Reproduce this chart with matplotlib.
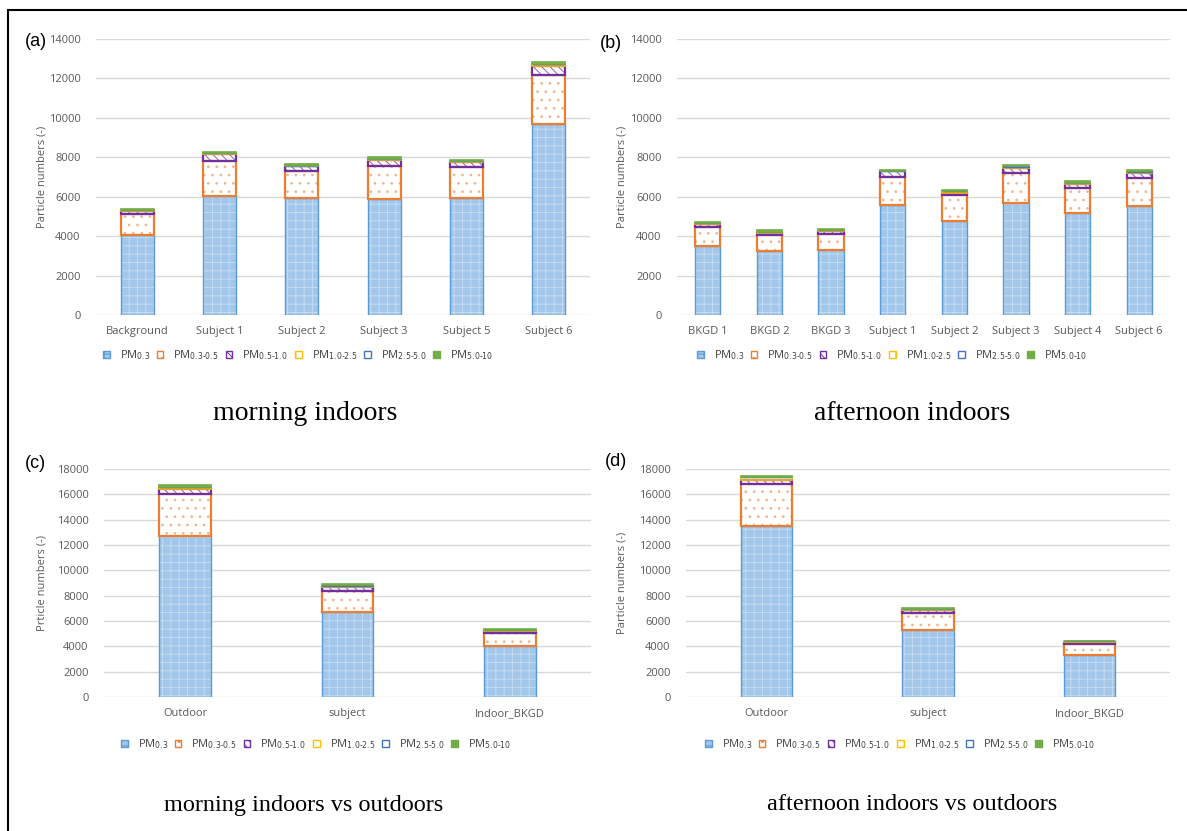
import numpy as np
import matplotlib
matplotlib.use("Agg")
import matplotlib.pyplot as plt
from matplotlib.patches import Patch, Rectangle

W, H = 1187, 831

# size classes
series = ["PM$_{0.3}$", "PM$_{0.3\u20100.5}$", "PM$_{0.5\u20101.0}$",
          "PM$_{1.0\u20102.5}$", "PM$_{2.5\u20105.0}$", "PM$_{5.0\u201010}$"]

# (a) morning indoors
cats_a = ["Background", "Subject 1", "Subject 2", "Subject 3", "Subject 5", "Subject 6"]
a_pm03 = [4050, 6050, 5920, 5860, 5950, 9680]
a_pm0305 = [1050, 1750, 1380, 1690, 1550, 2500]
a_pm0510 = [170, 370, 250, 290, 250, 470]
a_pm1025 = [40, 30, 20, 80, 40, 60]
a_pm2550 = [10, 10, 10, 10, 10, 20]
a_pm5010 = [80, 70, 60, 70, 70, 80]

# (b) afternoon indoors
cats_b = ["BKGD 1", "BKGD 2", "BKGD 3", "Subject 1", "Subject 2", "Subject 3", "Subject 4", "Subject 6"]
b_pm03 = [3500, 3230, 3280, 5560, 4750, 5660, 5150, 5540]
b_pm0305 = [960, 840, 840, 1450, 1330, 1550, 1280, 1430]
b_pm0510 = [150, 110, 120, 270, 120, 240, 190, 250]
b_pm1025 = [40, 40, 50, 30, 70, 80, 80, 50]
b_pm2550 = [10, 10, 10, 10, 10, 10, 10, 10]
b_pm5010 = [70, 60, 60, 60, 60, 80, 80, 70]

# (c) morning indoors vs outdoors
cats_c = ["Outdoor", "subject", "Indoor_BKGD"]
c_pm03 = [12750, 6680, 4030]
c_pm0305 = [3280, 1710, 1000]
c_pm0510 = [370, 320, 150]
c_pm1025 = [150, 80, 100]
c_pm2550 = [20, 20, 20]
c_pm5010 = [130, 110, 90]

# (d) afternoon indoors vs outdoors
cats_d = ["Outdoor", "subject", "Indoor_BKGD"]
d_pm03 = [13470, 5300, 3320]
d_pm0305 = [3370, 1370, 870]
d_pm0510 = [320, 160, 150]
d_pm1025 = [180, 110, 50]
d_pm2550 = [20, 20, 10]
d_pm5010 = [110, 100, 60]

# face, hatch, hatch colour, outline colour, outline width
styles = [
    ("#a3c7ea", "++", "#c4dbf2", "#5b9bd5", 1.0),
    ("white", "..", "#f2b48a", "#ed7d31", 1.6),
    ("white", "\\\\\\\\", "#8f5fb8", "#7030a0", 1.6),
    ("white", "||", "#ffd45c", "#ffc000", 1.2),
    ("white", "", "white", "#4472c4", 1.0),
    ("#70ad47", "++", "#a9d18e", "#70ad47", 1.2),
]

plt.rcParams["hatch.linewidth"] = 0.7
plt.rcParams["font.family"] = ["Open Sans", "DejaVu Sans"]

fig = plt.figure(figsize=(W / 100, H / 100), dpi=100)


def ax_at(x0, y0, x1, y1):
    return fig.add_axes([x0 / W, 1 - y1 / H, (x1 - x0) / W, (y1 - y0) / H])


def panel(box, cats, data, ymax, width, ylabel, ylab_x, letter, letter_xy,
          leg_xy, title, title_xy, title_size):
    ax = ax_at(*box)
    x = np.arange(len(cats))
    bottom = np.zeros(len(cats))
    for vals, (fc, hatch, hc, ec, lw) in zip(data, styles):
        vals = np.array(vals, dtype=float)
        ax.bar(x, vals, width, bottom=bottom, color=fc, hatch=hatch,
               edgecolor=hc, linewidth=0, zorder=3)
        ax.bar(x, vals, width, bottom=bottom, fill=False, edgecolor=ec,
               linewidth=lw, zorder=4)
        bottom += vals
    ax.set_ylim(0, ymax)
    ax.set_xlim(-0.5, len(cats) - 0.5)
    ax.set_yticks(np.arange(0, ymax + 1, 2000))
    ax.set_xticks(x)
    ax.set_xticklabels(cats)
    ax.tick_params(length=0, labelsize=8, labelcolor="#595959", pad=8)
    ax.tick_params(axis="y", pad=11)
    ax.grid(axis="y", color="#d9d9d9", linewidth=1, zorder=0)
    for s in ax.spines.values():
        s.set_visible(False)
    ax.set_ylabel(ylabel, fontsize=8, color="#595959")
    ax.yaxis.set_label_coords((ylab_x - box[0]) / (box[2] - box[0]), 0.5)
    fig.text(letter_xy[0] / W, 1 - letter_xy[1] / H, letter, fontsize=13,
             family="Liberation Sans", va="center", ha="left")
    handles = [Patch(facecolor=fc, hatch=hatch, edgecolor=ec, linewidth=1)
               for fc, hatch, hc, ec, lw in styles]
    fig.legend(handles, series, loc="center", ncol=6, frameon=False,
               fontsize=8, handlelength=0.6, handleheight=0.6,
               handletextpad=0.9, columnspacing=0.6,
               bbox_to_anchor=(leg_xy[0] / W, 1 - leg_xy[1] / H),
               labelcolor="#404040")
    fig.text(title_xy[0] / W, 1 - title_xy[1] / H, title, fontsize=title_size,
             family="Liberation Serif", ha="center", va="center")
    return ax


panel((96, 39, 590, 315), cats_a,
      [a_pm03, a_pm0305, a_pm0510, a_pm1025, a_pm2550, a_pm5010],
      14000, 0.4, "Particle numbers (-)", 48, "(a)", (25, 41),
      (298, 355), "morning indoors", (305, 413), 20)

panel((677, 39, 1170, 315), cats_b,
      [b_pm03, b_pm0305, b_pm0510, b_pm1025, b_pm2550, b_pm5010],
      14000, 0.41, "Particle numbers (-)", 627, "(b)", (600, 43),
      (892, 355), "afternoon indoors", (912, 413), 20)

panel((104, 469, 591, 697), cats_c,
      [c_pm03, c_pm0305, c_pm0510, c_pm1025, c_pm2550, c_pm5010],
      18000, 0.32, "Prticle numbers (-)", 48, "(c)", (25, 463),
      (316, 744), "morning indoors vs outdoors", (304, 805), 17.5)

panel((686, 469, 1170, 697), cats_d,
      [d_pm03, d_pm0305, d_pm0510, d_pm1025, d_pm2550, d_pm5010],
      18000, 0.32, "Particle numbers (-)", 627, "(d)", (605, 462),
      (900, 744), "afternoon indoors vs outdoors", (912, 805), 17.5)

# outer frame (only left and top edges are inside the picture)
fig.add_artist(Rectangle((8 / W, -0.05), 1.1, 1 - 10 / H + 0.05,
                         transform=fig.transFigure, fill=False,
                         edgecolor="black", linewidth=1.5))

fig.savefig("out.png", dpi=100)
